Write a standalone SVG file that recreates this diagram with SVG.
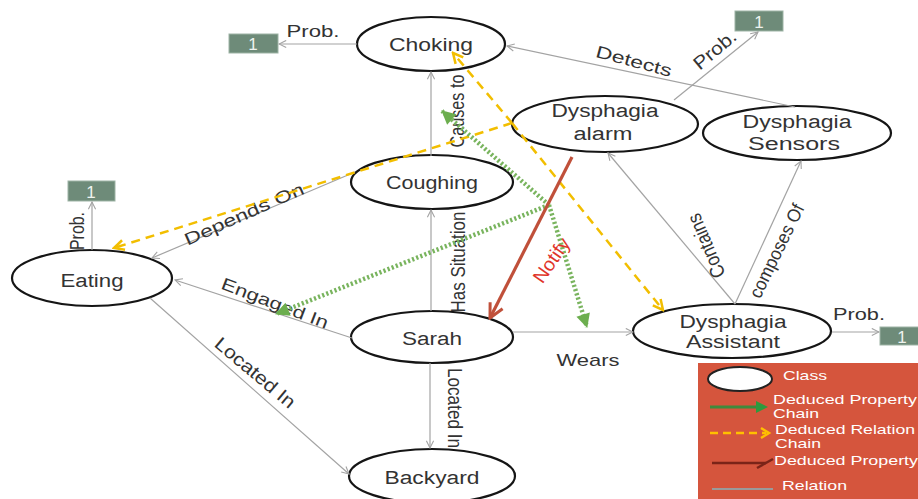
<svg xmlns="http://www.w3.org/2000/svg" width="918" height="499" viewBox="0 0 918 499">
<style>
text{font-family:"Liberation Sans",Arial,sans-serif;}
.node ellipse{fill:#fff;stroke:#151515;stroke-width:2.2;}
.node text{font-size:18px;fill:#333;text-anchor:middle;}
.prob rect{fill:#6e8b79;stroke:#9db3a5;stroke-width:1;}
.prob text{font-size:17px;fill:#eef3ef;text-anchor:middle;}
.rel{stroke:#a3a3a3;stroke-width:1.2;fill:none;marker-end:url(#ag);}
.lbl{font-size:17px;fill:#333;text-anchor:middle;}
.vl{font-size:20px;}
.dl{font-size:18.5px;}
.yel{stroke:#f2be00;stroke-width:2.5;stroke-dasharray:9 6;fill:none;marker-end:url(#ay);}
.grn{stroke:#79b45e;stroke-width:4.5;stroke-dasharray:2.2 2.2;fill:none;marker-end:url(#agr);}
.red{stroke:#c0503a;stroke-width:3.2;fill:none;marker-end:url(#ar);}
.leg{font-size:13px;fill:#fff;}
</style>
<defs>
<marker id="ag" viewBox="0 0 10 10" refX="9" refY="5" markerWidth="9" markerHeight="9" markerUnits="userSpaceOnUse" orient="auto"><path d="M1,1 L9,5 L1,9" fill="none" stroke="#a3a3a3" stroke-width="1.2"/></marker>
<marker id="ay" viewBox="0 0 14 14" refX="12" refY="7" markerWidth="14" markerHeight="14" markerUnits="userSpaceOnUse" orient="auto"><path d="M2,2 L12,7 L2,12" fill="none" stroke="#f2be00" stroke-width="2.5"/></marker>
<marker id="agr" viewBox="0 0 16 16" refX="14" refY="8" markerWidth="16" markerHeight="16" markerUnits="userSpaceOnUse" orient="auto"><path d="M1,1 L15,8 L1,15 Z" fill="#6cae4e"/></marker>
<marker id="ar" viewBox="0 0 18 18" refX="16" refY="9" markerWidth="18" markerHeight="18" markerUnits="userSpaceOnUse" orient="auto"><path d="M2,2 L16,9 L2,16" fill="none" stroke="#c0503a" stroke-width="3"/></marker>
</defs>
<rect width="918" height="499" fill="#fff"/>

<g id="nodes">
<g id="choking" class="node"><ellipse cx="431" cy="44" rx="74" ry="27"/><text x="431" y="51" textLength="84" lengthAdjust="spacingAndGlyphs">Choking</text></g>
<g id="coughing" class="node"><ellipse cx="432" cy="182" rx="81" ry="27"/><text x="432" y="189" textLength="92" lengthAdjust="spacingAndGlyphs">Coughing</text></g>
<g id="sarah" class="node"><ellipse cx="432" cy="337" rx="81" ry="26"/><text x="432" y="345" textLength="60" lengthAdjust="spacingAndGlyphs">Sarah</text></g>
<g id="backyard" class="node"><ellipse cx="432" cy="476" rx="83" ry="27"/><text x="432" y="484" textLength="95" lengthAdjust="spacingAndGlyphs">Backyard</text></g>
<g id="eating" class="node"><ellipse cx="92" cy="278" rx="80" ry="28"/><text x="92" y="287" textLength="63" lengthAdjust="spacingAndGlyphs">Eating</text></g>
<g id="dysphagia-alarm" class="node"><ellipse cx="605" cy="124" rx="93" ry="28"/><text x="605" y="117" textLength="107" lengthAdjust="spacingAndGlyphs">Dysphagia</text><text x="603" y="140" textLength="59" lengthAdjust="spacingAndGlyphs">alarm</text></g>
<g id="dysphagia-sensors" class="node"><ellipse cx="797" cy="133" rx="94" ry="27"/><text x="797" y="128" textLength="109" lengthAdjust="spacingAndGlyphs">Dysphagia</text><text x="794" y="150" textLength="92" lengthAdjust="spacingAndGlyphs">Sensors</text></g>
<g id="dysphagia-assistant" class="node"><ellipse cx="732" cy="331" rx="99" ry="27"/><text x="733" y="328" textLength="107" lengthAdjust="spacingAndGlyphs">Dysphagia</text><text x="733" y="348" textLength="94" lengthAdjust="spacingAndGlyphs">Assistant</text></g>
<g id="prob-choking" class="prob"><rect x="229" y="34" width="49" height="19"/><text x="253" y="50">1</text></g>
<g id="prob-alarm" class="prob"><rect x="735" y="11" width="48" height="20"/><text x="759" y="28">1</text></g>
<g id="prob-eating" class="prob"><rect x="68" y="181" width="47" height="20"/><text x="91" y="198">1</text></g>
<g id="prob-assistant" class="prob"><rect x="880" y="327" width="45" height="18"/><text x="902" y="343">1</text></g>
</g>

<g id="connectors">
<line class="rel" x1="357" y1="44" x2="279" y2="44"/>
<text class="lbl" x="313" y="37" textLength="53" lengthAdjust="spacingAndGlyphs">Prob.</text>
<line class="rel" x1="795" y1="107" x2="507" y2="46"/>
<text class="lbl" transform="translate(634,61) rotate(15)" x="0" y="6" textLength="78" lengthAdjust="spacingAndGlyphs">Detects</text>
<line class="rel" x1="674" y1="100" x2="758" y2="32"/>
<text class="lbl dl" transform="translate(715,50) rotate(-40)" x="0" y="6" textLength="50" lengthAdjust="spacingAndGlyphs">Prob.</text>
<line class="rel" x1="431" y1="156" x2="431" y2="72"/>
<text class="lbl vl" transform="translate(457,111) rotate(-90)" x="0" y="7" textLength="73" lengthAdjust="spacingAndGlyphs">Causes to</text>
<line class="rel" x1="431" y1="311" x2="431" y2="210"/>
<text class="lbl vl" transform="translate(458,262) rotate(-90)" x="0" y="7" textLength="101" lengthAdjust="spacingAndGlyphs">Has Situation</text>
<line class="rel" x1="430" y1="363" x2="430" y2="448"/>
<text class="lbl vl" transform="translate(455,408) rotate(90)" x="0" y="7" textLength="80" lengthAdjust="spacingAndGlyphs">Located In</text>
<line class="rel" x1="150" y1="298" x2="349" y2="474"/>
<text class="lbl dl" transform="translate(255,373) rotate(40)" x="0" y="6" textLength="99" lengthAdjust="spacingAndGlyphs">Located In</text>
<line class="rel" x1="352" y1="338" x2="175" y2="280"/>
<text class="lbl" transform="translate(275,303) rotate(21)" x="0" y="6" textLength="113" lengthAdjust="spacingAndGlyphs">Engaged In</text>
<line class="rel" x1="355" y1="172" x2="152" y2="258"/>
<text class="lbl" transform="translate(244,214) rotate(-24)" x="0" y="6" textLength="129" lengthAdjust="spacingAndGlyphs">Depends On</text>
<line class="rel" x1="513" y1="332" x2="633" y2="332"/>
<text class="lbl" x="588" y="366" textLength="63" lengthAdjust="spacingAndGlyphs">Wears</text>
<line class="rel" x1="735" y1="304" x2="608" y2="153"/>
<text class="lbl vl" transform="translate(706,246) rotate(-113)" x="0" y="7" textLength="68" lengthAdjust="spacingAndGlyphs">Contains</text>
<line class="rel" x1="735" y1="304" x2="801" y2="161"/>
<text class="lbl dl" transform="translate(777,251) rotate(-64)" x="0" y="6" textLength="102" lengthAdjust="spacingAndGlyphs">composes Of</text>
<line class="rel" x1="92" y1="250" x2="92" y2="202"/>
<text class="lbl vl" transform="translate(77,231) rotate(-90)" x="0" y="7" textLength="38" lengthAdjust="spacingAndGlyphs">Prob.</text>
<line class="rel" x1="832" y1="332" x2="879" y2="332"/>
<text class="lbl" x="859" y="320" textLength="52" lengthAdjust="spacingAndGlyphs">Prob.</text>

<path class="yel" d="M512,123 L114,248"/>
<path class="yel" d="M512,123 L453,53"/>
<path class="yel" d="M512,123 L663,310"/>
<path class="grn" d="M549,205 L442,111"/>
<path class="grn" d="M549,205 L276,314"/>
<path class="grn" d="M549,205 L587,327"/>
<path class="red" d="M572,157 L490,318"/>
<text transform="translate(551,260) rotate(-55)" x="0" y="7" text-anchor="middle" style="font-size:19px;fill:#e0352a" textLength="50" lengthAdjust="spacingAndGlyphs">Notify</text>
</g>

<g id="legend">
<rect x="698" y="363" width="225" height="140" fill="#d5553d"/>
<ellipse cx="740" cy="379" rx="32" ry="12" fill="#fff" stroke="#222" stroke-width="2"/>
<text class="leg" x="783" y="380" textLength="44" lengthAdjust="spacingAndGlyphs">Class</text>
<line x1="710" y1="407" x2="757" y2="407" stroke="#3f8a3c" stroke-width="3"/>
<path d="M756,401 L768,407 L756,413 Z" fill="#2e9a3e"/>
<text class="leg" x="773" y="404" textLength="144" lengthAdjust="spacingAndGlyphs">Deduced Property</text>
<text class="leg" x="773" y="418" textLength="46" lengthAdjust="spacingAndGlyphs">Chain</text>
<line x1="710" y1="433" x2="766" y2="433" stroke="#ffc000" stroke-width="2.5" stroke-dasharray="8 5"/>
<path d="M761,428 L769,433 L761,438" fill="none" stroke="#ffc000" stroke-width="2.5"/>
<text class="leg" x="775" y="434" textLength="140" lengthAdjust="spacingAndGlyphs">Deduced Relation</text>
<text class="leg" x="775" y="448" textLength="46" lengthAdjust="spacingAndGlyphs">Chain</text>
<line x1="712" y1="463" x2="766" y2="463" stroke="#7a2418" stroke-width="2.5"/>
<line x1="757" y1="468" x2="773" y2="459" stroke="#7a2418" stroke-width="2.5"/>
<text class="leg" x="774" y="465" textLength="144" lengthAdjust="spacingAndGlyphs">Deduced Property</text>
<line x1="712" y1="489" x2="773" y2="489" stroke="#9a9a9a" stroke-width="2"/>
<text class="leg" x="782" y="490" textLength="65" lengthAdjust="spacingAndGlyphs">Relation</text>
</g>
</svg>
